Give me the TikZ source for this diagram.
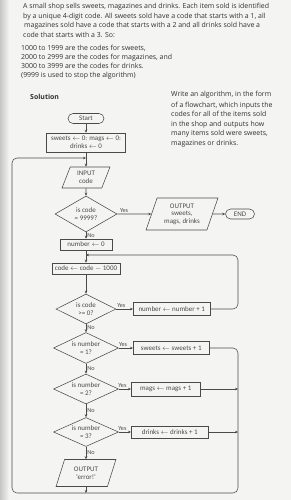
\documentclass[tikz,border=0pt]{standalone}
\usepackage{fontspec}
\setmainfont{Open Sans}
\newfontfamily\chartfont{Carlito}
\usetikzlibrary{shapes.geometric,arrows.meta,calc}
\definecolor{pagebg}{HTML}{F4F4F2}
\definecolor{ink}{HTML}{303030}
\definecolor{lineink}{HTML}{4A4A4A}
\begin{document}
\begin{tikzpicture}[x=1pt,y=-1pt,
  txt/.style={anchor=base west,inner sep=0pt,font=\fontsize{6.95}{8}\selectfont,text=ink},
  cf/.style={font=\chartfont\fontsize{7}{7.6}\selectfont,text=lineink,align=center},
  proc/.style={cf,draw=lineink,line width=0.55pt,rectangle,minimum height=11pt,inner sep=1pt},
  term/.style={proc,rounded corners=5pt,minimum height=10pt},
  dec/.style={cf,draw=lineink,line width=0.55pt,diamond,shape aspect=2.2,inner sep=0pt},
  io/.style={cf,draw=lineink,line width=0.55pt,trapezium,trapezium left angle=70,trapezium right angle=110,trapezium stretches=true,inner sep=1pt},
  flow/.style={draw=lineink,line width=0.55pt,-{Stealth[length=3pt,width=2.6pt]}},
  lbl/.style={cf,inner sep=1pt,font=\chartfont\fontsize{6.2}{6.6}\selectfont}
]
\useasboundingbox (0,0) rectangle (291,500);
\fill[pagebg] (0,0) rectangle (291,500);
\shade[left color=gray!45,right color=pagebg] (0,0) rectangle (9,500);

% text
\node[txt] (t1) at (23,9) {A small shop sells sweets, magazines and drinks. Each item sold is identified};
\node[txt] (t2) at (23,18.5) {by a unique 4-digit code. All sweets sold have a code that starts with a 1, all};
\node[txt] (t3) at (24,28) {magazines sold have a code that starts with a 2 and all drinks sold have a};
\node[txt] (t4) at (23,38) {code that starts with a 3. So:};
\node[txt] (t5) at (21,50.5) {1000 to 1999 are the codes for sweets,};
\node[txt] (t6) at (21,59.5) {2000 to 2999 are the codes for magazines, and};
\node[txt] (t7) at (21,69) {3000 to 3999 are the codes for drinks.};
\node[txt] (t8) at (21,78) {(9999 is used to stop the algorithm)};
\node[txt,font=\bfseries\fontsize{6.95}{8}\selectfont] (sol) at (30,100) {Solution};
\node[txt] (r1) at (171,97) {Write an algorithm, in the form};
\node[txt] (r2) at (171,107) {of a flowchart, which inputs the};
\node[txt] (r3) at (171,116.5) {codes for all of the items sold};
\node[txt] (r4) at (171,126) {in the shop and outputs how};
\node[txt] (r5) at (171,135.5) {many items sold were sweets,};
\node[txt] (r6) at (171,145) {magazines or drinks.};

% flowchart
\node[term,minimum width=36pt] (start) at (86,118.5) {Start};
\node[proc,minimum width=79pt,minimum height=19pt] (init) at (86,142.5) {sweets $\leftarrow$ 0: mags $\leftarrow$ 0:\\drinks $\leftarrow$ 0};
\node[io,minimum width=48pt,minimum height=21pt] (inp) at (86,177.5) {INPUT\\code};
\node[dec,minimum width=62pt,minimum height=36pt] (d1) at (86,214) {is code\\= 9999?};
\node[io,minimum width=72pt,minimum height=32pt] (out) at (182,214) {OUTPUT\\sweets,\\mags, drinks};
\node[term,minimum width=29pt] (end) at (240,214) {END};
\node[proc,minimum width=52pt] (n0) at (86,244.5) {number $\leftarrow$ 0};
\node[proc,minimum width=68pt] (cc) at (86,268.5) {code $\leftarrow$ code $-$ 1000};
\node[dec,minimum width=60pt,minimum height=30pt] (d2) at (86,309) {is code\\>= 0?};
\node[proc,minimum width=77pt,minimum height=13pt,anchor=west] (inc) at (133,309) {number $\leftarrow$ number + 1};
\node[dec,minimum width=65pt,minimum height=31pt] (d3) at (86,348) {is number\\= 1?};
\node[proc,minimum width=76pt,minimum height=13pt,anchor=west] (sw) at (133,348) {sweets $\leftarrow$ sweets + 1};
\node[dec,minimum width=65pt,minimum height=30pt] (d4) at (86,389) {is number\\= 2?};
\node[proc,minimum width=69pt,minimum height=14pt,anchor=west] (mg) at (131,389) {mags $\leftarrow$ mags + 1};
\node[dec,minimum width=65pt,minimum height=29pt] (d5) at (86,432) {is number\\= 3?};
\node[proc,minimum width=77pt,minimum height=12pt,anchor=west] (dr) at (131,432) {drinks $\leftarrow$ drinks + 1};
\node[io,minimum width=60pt,minimum height=27pt] (err) at (86,473) {OUTPUT\\‘error!’};

\coordinate (j1) at (86,158);
\coordinate (j2) at (86,255);
\coordinate (rail) at (238,0);
\coordinate (bot) at (0,493);

\draw[flow] (start) -- (init);
\draw[flow] (init) -- (inp);
\draw[flow] (inp) -- (d1);
\draw[flow] (d1) -- node[lbl,above,pos=0.2] {Yes} (out);
\draw[flow] (out) -- (end);
\draw[flow] (d1) -- node[lbl,right,pos=0.45] {No} (n0);
\draw[flow] (n0) -- (cc);
\draw[flow] (cc) -- (d2);
\draw[flow] (d2) -- node[lbl,above,pos=0.3] {Yes} (inc);
\draw[flow,rounded corners=5pt] (inc.east) -- (inc.east -| rail) -- (rail |- j2) -- (j2);
\draw[flow] (d2) -- node[lbl,right,pos=0.45] {No} (d3);
\draw[flow] (d3) -- node[lbl,above,pos=0.3] {Yes} (sw);
\draw[flow,rounded corners=5pt] (sw.east) -- (sw.east -| rail) -- (rail |- bot) -- (12,493) -- (12,158) -- (j1);
\draw[flow] (d3) -- node[lbl,right,pos=0.45] {No} (d4);
\draw[flow] (d4) -- node[lbl,above,pos=0.3] {Yes} (mg);
\draw[flow] (mg.east) -- (mg.east -| rail);
\draw[flow] (d4) -- node[lbl,right,pos=0.45] {No} (d5);
\draw[flow] (d5) -- node[lbl,above,pos=0.3] {Yes} (dr);
\draw[flow] (dr.east) -- (dr.east -| rail);
\draw[flow] (d5) -- node[lbl,right,pos=0.45] {No} (err);
\draw[flow] (err) -- (err |- bot);
\end{tikzpicture}
\end{document}
